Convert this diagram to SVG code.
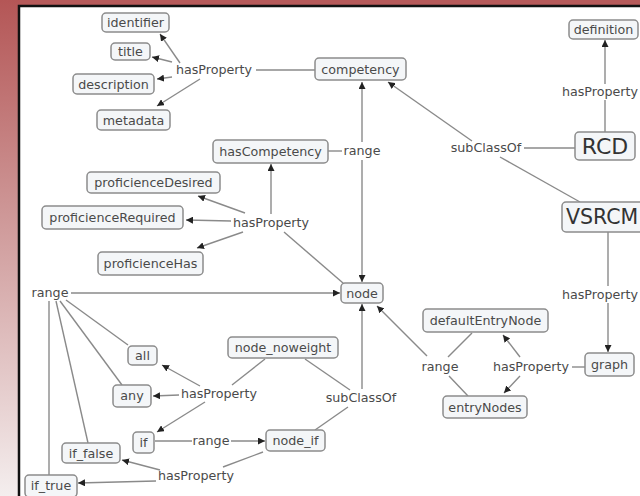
<svg xmlns="http://www.w3.org/2000/svg" width="640" height="496" viewBox="0 0 640 496">
<defs>
<linearGradient id="side" x1="0" y1="0" x2="0" y2="1">
<stop offset="0" stop-color="#b45656"/>
<stop offset="0.45" stop-color="#cf9a9a"/>
<stop offset="1" stop-color="#f4eeee"/>
</linearGradient>
<marker id="arr" viewBox="0 0 10 10" refX="10" refY="5" markerWidth="7" markerHeight="7" markerUnits="userSpaceOnUse" orient="auto">
<path d="M0,0 L10,5 L0,10 z" fill="#222"/>
</marker>
<style>
.n rect{fill:#f4f6f8;stroke:#8c8c8c;stroke-width:1.5}
.n text,.lb{font-family:"DejaVu Sans",Verdana,sans-serif;font-size:12.7px;fill:#4a4a4a;text-anchor:middle}
.big text{font-size:22px;fill:#333}
.e line{stroke:#8a8a8a;stroke-width:1.4;fill:none}
.e line.a{marker-end:url(#arr)}
.bg{fill:#fff}
</style>
</defs>
<rect x="0" y="0" width="640" height="496" fill="#b65a5a"/>
<rect x="0" y="0" width="20" height="496" fill="url(#side)"/>
<rect x="19" y="6" width="630" height="500" fill="#fff" stroke="#111" stroke-width="2.5"/>

<g id="connectors" class="e">
<line class="a" x1="180" y1="63" x2="160" y2="34"/>
<line class="a" x1="172" y1="62" x2="152" y2="57"/>
<line class="a" x1="172" y1="77" x2="157" y2="79"/>
<line class="a" x1="200" y1="79" x2="157" y2="106"/>
<line x1="256" y1="70" x2="315" y2="70"/>
<line x1="328" y1="151" x2="342" y2="151"/>
<line class="a" x1="362" y1="142" x2="362" y2="82"/>
<line class="a" x1="362" y1="160" x2="362" y2="282"/>
<line class="a" x1="271" y1="214" x2="271" y2="164"/>
<line class="a" x1="245" y1="213" x2="198" y2="196"/>
<line class="a" x1="231" y1="221" x2="186" y2="220"/>
<line class="a" x1="243" y1="232" x2="197" y2="248"/>
<line x1="284" y1="232" x2="343" y2="283"/>
<line class="a" x1="472" y1="141" x2="388" y2="82"/>
<line x1="524" y1="148" x2="575" y2="148"/>
<line x1="500" y1="157" x2="580" y2="202"/>
<line x1="605" y1="132" x2="605" y2="100"/>
<line class="a" x1="605" y1="84" x2="605" y2="40"/>
<line x1="608" y1="232" x2="608" y2="286"/>
<line class="a" x1="608" y1="303" x2="608" y2="352"/>
<line class="a" x1="71" y1="293" x2="340" y2="293"/>
<line x1="66" y1="300" x2="128" y2="345"/>
<line x1="60" y1="301" x2="122" y2="385"/>
<line x1="56" y1="301" x2="88" y2="443"/>
<line x1="49" y1="301" x2="49" y2="475"/>
<line class="a" x1="200" y1="386" x2="162" y2="365"/>
<line class="a" x1="179" y1="395" x2="153" y2="396"/>
<line class="a" x1="205" y1="402" x2="157" y2="432"/>
<line x1="232" y1="385" x2="265" y2="359"/>
<line class="a" x1="362" y1="389" x2="362" y2="304"/>
<line x1="350" y1="390" x2="305" y2="359"/>
<line x1="348" y1="407" x2="315" y2="430"/>
<line x1="155" y1="441" x2="192" y2="441"/>
<line class="a" x1="231" y1="441" x2="265" y2="441"/>
<line x1="263" y1="452" x2="223" y2="467"/>
<line class="a" x1="160" y1="470" x2="122" y2="460"/>
<line class="a" x1="156" y1="481" x2="78" y2="483"/>
<line class="a" x1="427" y1="356" x2="377" y2="306"/>
<line x1="448" y1="357" x2="472" y2="333"/>
<line x1="449" y1="376" x2="468" y2="396"/>
<line class="a" x1="520" y1="357" x2="503" y2="335"/>
<line class="a" x1="520" y1="376" x2="504" y2="393"/>
<line x1="572" y1="367" x2="585" y2="367"/>
</g>

<g id="labels">
<text class="lb" x="214" y="74">hasProperty</text>
<rect class="bg" x="343" y="142" width="38" height="17"/>
<text class="lb" x="362" y="155">range</text>
<text class="lb" x="271" y="227">hasProperty</text>
<text class="lb" x="486" y="152">subClassOf</text>
<rect class="bg" x="563" y="85" width="76" height="14"/>
<text class="lb" x="638" y="96" style="text-anchor:end">hasProperty</text>
<rect class="bg" x="563" y="288" width="76" height="14"/>
<text class="lb" x="638" y="299" style="text-anchor:end">hasProperty</text>
<text class="lb" x="50" y="297">range</text>
<text class="lb" x="219" y="398">hasProperty</text>
<text class="lb" x="361" y="402">subClassOf</text>
<text class="lb" x="211" y="445">range</text>
<text class="lb" x="196" y="480">hasProperty</text>
<text class="lb" x="440" y="371">range</text>
<text class="lb" x="531" y="371">hasProperty</text>
</g>

<g id="identifier" class="n"><rect x="102" y="13" width="67" height="19" rx="4"/><text x="135.5" y="27">identifier</text></g>
<g id="title" class="n"><rect x="111" y="43" width="39" height="17" rx="4"/><text x="130.5" y="56">title</text></g>
<g id="description" class="n"><rect x="73" y="74" width="81" height="20" rx="4"/><text x="113.5" y="88.5">description</text></g>
<g id="metadata" class="n"><rect x="97" y="110" width="73" height="20" rx="4"/><text x="133.5" y="124.5">metadata</text></g>
<g id="competency" class="n"><rect x="315" y="58" width="91" height="22" rx="4"/><text x="360.5" y="73.5">competency</text></g>
<g id="definition" class="n"><rect x="569" y="20" width="69" height="19" rx="4"/><text x="603.5" y="34">definition</text></g>
<g id="hasCompetency" class="n"><rect x="213" y="140" width="115" height="23" rx="4"/><text x="270.5" y="156">hasCompetency</text></g>
<g id="proficienceDesired" class="n"><rect x="87" y="172" width="133" height="21" rx="4"/><text x="153.5" y="187">proficienceDesired</text></g>
<g id="proficienceRequired" class="n"><rect x="42" y="206" width="141" height="23" rx="4"/><text x="112.5" y="222">proficienceRequired</text></g>
<g id="proficienceHas" class="n"><rect x="98" y="252" width="105" height="23" rx="4"/><text x="150.5" y="268">proficienceHas</text></g>
<g id="RCD" class="n big"><rect x="575" y="132" width="60" height="28" rx="4"/><text x="605" y="154">RCD</text></g>
<g id="VSRCM" class="n big"><rect x="562" y="202" width="92" height="30" rx="4"/><text x="566" y="224" style="font-size:20.5px;text-anchor:start">VSRCM</text></g>
<g id="node" class="n"><rect x="341" y="283" width="42" height="20" rx="4"/><text x="362" y="297.5">node</text></g>
<g id="defaultEntryNode" class="n"><rect x="423" y="309" width="125" height="23" rx="4"/><text x="485.5" y="325">defaultEntryNode</text></g>
<g id="entryNodes" class="n"><rect x="443" y="396" width="84" height="22" rx="4"/><text x="485" y="411.5">entryNodes</text></g>
<g id="graph" class="n"><rect x="585" y="353" width="49" height="23" rx="4"/><text x="609.5" y="369">graph</text></g>
<g id="node_noweight" class="n"><rect x="228" y="337" width="110" height="21" rx="4"/><text x="283" y="352">node_noweight</text></g>
<g id="all" class="n"><rect x="128" y="346" width="29" height="19" rx="4"/><text x="142.5" y="360">all</text></g>
<g id="any" class="n"><rect x="113" y="385" width="38" height="22" rx="4"/><text x="132" y="400">any</text></g>
<g id="if" class="n"><rect x="133" y="432" width="21" height="21" rx="4"/><text x="143.5" y="447">if</text></g>
<g id="node_if" class="n"><rect x="266" y="430" width="59" height="21" rx="4"/><text x="295.5" y="445">node_if</text></g>
<g id="if_false" class="n"><rect x="62" y="443" width="58" height="20" rx="4"/><text x="91" y="457.5">if_false</text></g>
<g id="if_true" class="n"><rect x="25" y="475" width="52" height="22" rx="4"/><text x="51" y="490">if_true</text></g>
</svg>
